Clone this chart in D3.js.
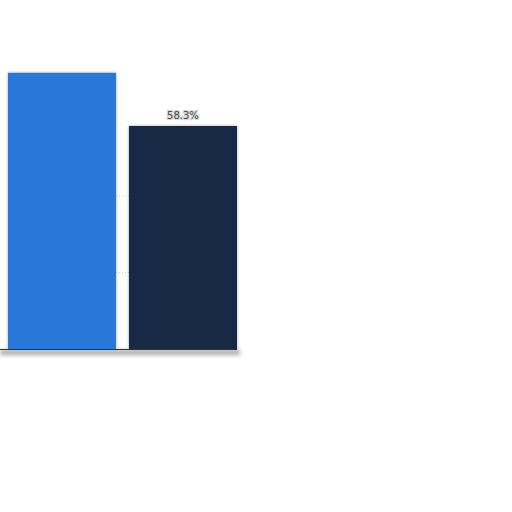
<!DOCTYPE html>
<html>
<head>
<meta charset="utf-8">
<script src="https://cdn.jsdelivr.net/npm/d3@7"></script>
<style>
  body { margin: 0; background: #fff; }
</style>
</head>
<body>
<svg id="chart"></svg>
<script>
const categories = ["A", "B"];
const values = [72.2, 58.3];
const valueLabels = ["", "58.3%"];
const barColors = ["#2b77da", "#142b45"];
const gridTicks = [20, 40];

const svg = d3.select("#chart").attr("width", 512).attr("height", 512);

const defs = svg.append("defs");
const shadow = defs.append("filter")
  .attr("id", "shadow")
  .attr("x", "-20%").attr("y", "-20%")
  .attr("width", "140%").attr("height", "140%");
shadow.append("feDropShadow")
  .attr("dx", 0).attr("dy", 0)
  .attr("stdDeviation", 1.5)
  .attr("flood-color", "#000")
  .attr("flood-opacity", 0.35);

const baseShadow = defs.append("filter")
  .attr("id", "baseShadow")
  .attr("x", "-10%").attr("y", "-200%")
  .attr("width", "120%").attr("height", "500%");
baseShadow.append("feGaussianBlur").attr("stdDeviation", 2);

const x = d3.scaleBand()
  .domain(categories)
  .range([8, 237])
  .paddingInner(0.107)
  .paddingOuter(0);

const y = d3.scaleLinear()
  .domain([0, 60])
  .range([349, 119.5]);

// faint dotted gridlines
svg.append("g")
  .selectAll("line")
  .data(gridTicks)
  .enter()
  .append("line")
  .attr("x1", 8)
  .attr("x2", 237)
  .attr("y1", d => y(d))
  .attr("y2", d => y(d))
  .attr("stroke", "#cfcfcf")
  .attr("stroke-width", 1)
  .attr("stroke-dasharray", "1,2");

// soft shadow under the baseline
svg.append("rect")
  .attr("x", 0)
  .attr("y", y(0) + 1)
  .attr("width", 240)
  .attr("height", 5)
  .attr("fill", "#a8a8a8")
  .attr("filter", "url(#baseShadow)");

svg.append("g")
  .selectAll("rect")
  .data(values)
  .enter()
  .append("rect")
  .attr("x", (d, i) => x(categories[i]))
  .attr("y", d => y(d))
  .attr("width", x.bandwidth())
  .attr("height", d => y(0) - y(d))
  .attr("fill", (d, i) => barColors[i])
  .attr("filter", "url(#shadow)");

// baseline
svg.append("line")
  .attr("x1", 0)
  .attr("x2", 237)
  .attr("y1", y(0) + 0.5)
  .attr("y2", y(0) + 0.5)
  .attr("stroke", "#333")
  .attr("stroke-width", 1);

svg.append("g")
  .selectAll("text")
  .data(values)
  .enter()
  .append("text")
  .attr("x", (d, i) => x(categories[i]) + x.bandwidth() / 2)
  .attr("y", d => y(d) - 7)
  .attr("text-anchor", "middle")
  .style("font-family", "DejaVu Sans, sans-serif")
  .style("font-size", "10px")
  .style("fill", "#4a4a4a")
  .style("paint-order", "stroke")
  .style("stroke", "#d8d8d8")
  .style("stroke-width", "2.5px")
  .text((d, i) => valueLabels[i]);
</script>
</body>
</html>
